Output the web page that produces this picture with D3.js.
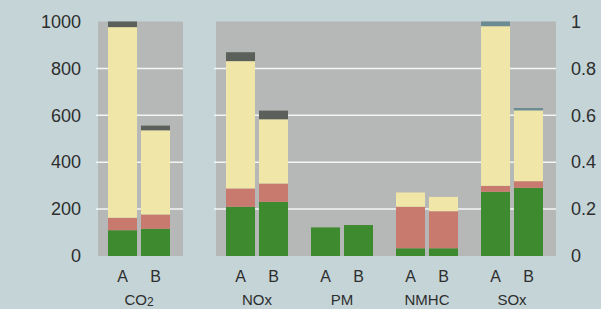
<html>
<head>
<meta charset="utf-8">
<title>排出量比較</title>
<style>
  body { margin: 0; background: #c4d4d7; }
  text { font-family: "Liberation Sans", "DejaVu Sans", sans-serif; fill: #2e2e2e; }
</style>
</head>
<body>
<script src="https://cdn.jsdelivr.net/npm/d3@7/dist/d3.min.js"></script>
<script>
    var width = 601, height = 309;

    // data, left axis units 0..1000
    var groups = ["CO2", "NOx", "PM", "NMHC", "SOx"];
    var cases = ["A", "B"];
    var layers = ["green", "red", "yellow", "top"];
    var greenVals  = [[110, 116], [210, 231], [122, 132], [33, 33], [274, 291]];
    var redVals    = [[53, 61],   [78, 78],   [0, 0],     [177, 158], [25, 28]];
    var yellowVals = [[813, 359], [543, 274], [0, 0],     [61, 61],   [681, 302]];
    var topVals    = [[24, 20],   [38, 37],   [0, 0],     [0, 0],     [20, 10]];
    var leftTicks = [0, 200, 400, 600, 800, 1000];
    var rightTicks = [0, 0.2, 0.4, 0.6, 0.8, 1];

    var colors = {green: "#3e8a2f", red: "#c97a6f", yellow: "#efe6a8", top: "#5b605a"};
    var sOxTop = "#6b8c93";

    var svg = d3.select('body').append('svg')
            .attr('width', width)
            .attr('height', height);

    var y = d3.scaleLinear().domain([0, 1000]).range([256, 21.5]);
    var y2 = d3.scaleLinear().domain([0, 1]).range([256, 21.5]);

    // two panels: CO2 alone, the rest together
    var xLeft = d3.scaleBand().domain(["CO2"]).range([98, 183]);
    var xRight = d3.scaleBand().domain(groups.slice(1)).range([216, 556]);
    function x0(g) { return g === "CO2" ? xLeft(g) : xRight(g); }
    var x1 = d3.scaleBand().domain(cases).range([10, 72]).paddingInner(0.12);

    svg.append('rect').attr('x', 98).attr('y', y(1000))
        .attr('width', 85).attr('height', y(0) - y(1000)).attr('fill', '#b5b8b7');
    svg.append('rect').attr('x', 216).attr('y', y(1000))
        .attr('width', 340).attr('height', y(0) - y(1000)).attr('fill', '#b5b8b7');

    // grid lines
    var gridTicks = leftTicks.filter(function (d) { return d > 0 && d < 1000; });
    [[96, 183], [214, 556]].forEach(function (r) {
        svg.selectAll(null).data(gridTicks).enter().append('line')
            .attr('x1', r[0]).attr('x2', r[1])
            .attr('y1', function (d) { return y(d); })
            .attr('y2', function (d) { return y(d); })
            .attr('stroke', '#f4f6f4').attr('stroke-width', 1.5);
    });

    // stacked bars
    var rows = [];
    groups.forEach(function (g, gi) {
        cases.forEach(function (c, ci) {
            var base = 0;
            var vals = {green: greenVals[gi][ci], red: redVals[gi][ci],
                        yellow: yellowVals[gi][ci], top: topVals[gi][ci]};
            layers.forEach(function (k) {
                if (vals[k] > 0) {
                    rows.push({g: g, c: c, k: k, y0: base, y1: base + vals[k]});
                }
                base += vals[k];
            });
        });
    });

    svg.selectAll('rect.bar').data(rows).enter().append('rect')
        .attr('class', 'bar')
        .attr('x', function (d) { return x0(d.g) + x1(d.c); })
        .attr('width', x1.bandwidth())
        .attr('y', function (d) { return y(d.y1); })
        .attr('height', function (d) { return y(d.y0) - y(d.y1); })
        .attr('fill', function (d) {
            if (d.k === "top" && d.g === "SOx") return sOxTop;
            return colors[d.k];
        });

    // left axis
    var left = svg.append('g').attr('transform', 'translate(81,0)')
        .call(d3.axisLeft(y).tickValues(leftTicks).tickSize(0).tickPadding(0)
            .tickFormat(d3.format('d')));
    left.select('.domain').remove();
    left.selectAll('text').style('font-size', '18px').attr('fill', '#2e2e2e');

    // right axis
    var right = svg.append('g').attr('transform', 'translate(571,0)')
        .call(d3.axisRight(y2).tickValues(rightTicks).tickSize(0).tickPadding(0)
            .tickFormat(d3.format('~g')));
    right.select('.domain').remove();
    right.selectAll('text').style('font-size', '18px').attr('fill', '#2e2e2e');

    // A / B labels
    groups.forEach(function (g) {
        cases.forEach(function (c) {
            svg.append('text')
                .attr('x', x0(g) + x1(c) + x1.bandwidth() / 2)
                .attr('y', 282)
                .attr('text-anchor', 'middle')
                .style('font-size', '16px')
                .text(c);
        });
        var t = svg.append('text')
            .attr('x', x0(g) + x1('A') + (x1('B') + x1.bandwidth() - x1('A')) / 2)
            .attr('y', 305)
            .attr('text-anchor', 'middle')
            .style('font-size', '15px');
        if (g === "CO2") {
            t.append('tspan').text('CO');
            t.append('tspan').attr('dy', 1).style('font-size', '12px').text('2');
        } else {
            t.text(g);
        }
    });
</script>
</body>
</html>
